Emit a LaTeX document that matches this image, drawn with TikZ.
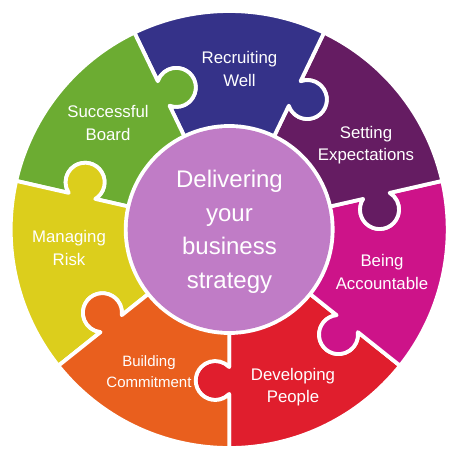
\documentclass[tikz,border=0pt]{standalone}
\usepackage{fontspec}
\setmainfont{Liberation Sans}
\definecolor{cblue}{RGB}{53,50,137}
\definecolor{cpurple}{RGB}{101,28,98}
\definecolor{cmagenta}{RGB}{205,19,137}
\definecolor{cred}{RGB}{224,30,45}
\definecolor{corange}{RGB}{233,95,30}
\definecolor{cyellow}{RGB}{220,206,28}
\definecolor{cgreen}{RGB}{108,172,50}
\definecolor{ccenter}{RGB}{192,124,198}
\newcommand\puzzlepiece[2]{%
  \pgfmathsetmacro\pa{#1}%
  \pgfmathsetmacro\pb{#1+\th}%
  \filldraw[fill=#2, draw=white, line width=3.8pt, line join=round]
    (\pa:\ri pt) -- (\pa:\c pt-\w pt)
    arc[start angle=\pa+180-\al, end angle=\pa+360+\al, radius=\R pt]
    -- (\pa:\ro pt)
    arc[start angle=\pa, end angle=\pb, radius=\ro pt]
    -- (\pb:\c pt+\w pt)
    arc[start angle=\pb+360+\al, end angle=\pb+180-\al, radius=\R pt]
    -- (\pb:\ri pt)
    arc[start angle=\pb, end angle=\pa, radius=\ri pt] -- cycle;
}
\begin{document}
\begin{tikzpicture}[x=1pt,y=1pt,
  lbl/.style={text=white, align=center, font=\fontsize{16.8}{22.3}\selectfont},
  lblsmall/.style={text=white, align=center, font=\fontsize{15}{21}\selectfont},
  hub/.style={text=white, align=center, font=\fontsize{24}{33.5}\selectfont}]
\useasboundingbox (-229.2,-225.5) rectangle (224.8,229.5);
\def\th{51.4285714}
\def\ri{103.5}
\def\ro{218.5}
\def\c{151}
\def\R{19.5}
\def\h{14}
\pgfmathsetmacro\w{sqrt(\R*\R-\h*\h)}
\pgfmathsetmacro\al{atan(\h/\w)}
\puzzlepiece{-90}{cred}
\puzzlepiece{-90+\th}{cmagenta}
\puzzlepiece{-90+2*\th}{cpurple}
\puzzlepiece{-90+3*\th}{cblue}
\puzzlepiece{-90+4*\th}{cgreen}
\puzzlepiece{-90+5*\th}{cyellow}
\puzzlepiece{-90+6*\th}{corange}
\fill[ccenter] (0,0) circle[radius=101.5pt];
\node[hub] (hubtext) at (0.3,-2.5) {Delivering\\your\\business\\strategy};
\node[lbl] (recruit) at (10.3,160.5) {Recruiting\\Well};
\node[lbl] (board) at (-121.2,106.5) {Successful\\Board};
\node[lbl] (setting) at (136.8,84.5) {Setting\\Expectations};
\node[lbl] (account) at (152.8,-42.5) {Being\\Accountable};
\node[lbl] (develop) at (63.8,-157.5) {Developing\\People};
\node[lblsmall] (commit) at (-80.2,-142.5) {Building\\Commitment};
\node[lbl] (risk) at (-160.2,-18.5) {Managing\\Risk};
\end{tikzpicture}
\end{document}
